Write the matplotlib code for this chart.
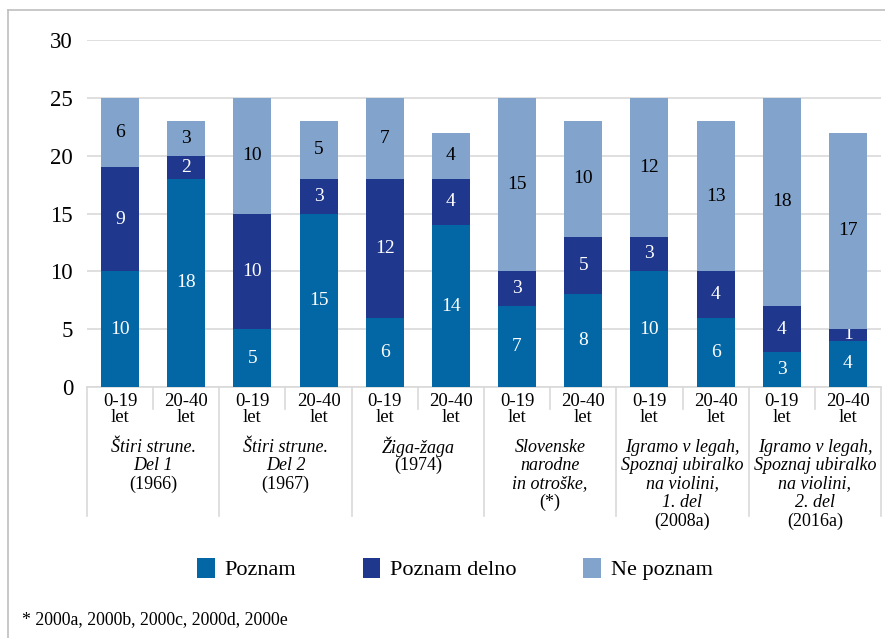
import matplotlib
matplotlib.use("Agg")
import matplotlib.pyplot as plt
import matplotlib.transforms as mtransforms
from matplotlib.lines import Line2D
import numpy as np

plt.rcParams['font.family'] = ['Liberation Serif', 'DejaVu Serif']

age_labels = ["0-19\nlet", "20-40\nlet"] * 6
group_labels = [
    "Štiri strune.\nDel 1",
    "Štiri strune.\nDel 2",
    "Žiga-žaga",
    "Slovenske\nnarodne\nin otroške,",
    "Igramo v legah,\nSpoznaj ubiralko\nna violini,\n1. del",
    "Igramo v legah,\nSpoznaj ubiralko\nna violini,\n2. del",
]
group_refs = ["(1966)", "(1967)", "(1974)", "(*)", "(2008a)", "(2016a)"]

poznam = [10, 18, 5, 15, 6, 14, 7, 8, 10, 6, 3, 4]
poznam_delno = [9, 2, 10, 3, 12, 4, 3, 5, 3, 4, 4, 1]
ne_poznam = [6, 3, 10, 5, 7, 4, 15, 10, 12, 13, 18, 17]

series_names = ["Poznam", "Poznam delno", "Ne poznam"]
colors = ["#0367a6", "#1f378d", "#82a3cb"]
label_colors = ["white", "white", "black"]

W, H = 885, 638
fig = plt.figure(figsize=(W / 100, H / 100), dpi=100)

# outer frame (top and left visible)
fig.add_artist(Line2D([8 / W, 8 / W], [0, 1 - 10 / H], transform=fig.transFigure, color="#bfbfbf", lw=1.2))
fig.add_artist(Line2D([8 / W, 1], [1 - 10 / H, 1 - 10 / H], transform=fig.transFigure, color="#bfbfbf", lw=1.2))

left, right = 87 / W, 881 / W
bottom, top = 1 - 387 / H, 1 - 40 / H
ax = fig.add_axes([left, bottom, right - left, top - bottom])

x = np.arange(len(poznam))
bw = 0.575
bottoms = np.zeros(len(poznam))
for vals, name, c, lc in zip([poznam, poznam_delno, ne_poznam], series_names, colors, label_colors):
    bars = ax.bar(x, vals, bw, bottom=bottoms, color=c, label=name, zorder=3)
    ax.bar_label(bars, labels=[str(v) for v in vals], label_type="center", color=lc, fontsize=14)
    bottoms += np.array(vals)

ax.set_xlim(-0.5, len(poznam) - 0.5)
ax.set_ylim(0, 30)
ax.set_yticks([0, 5, 10, 15, 20, 25, 30])
ax.tick_params(axis="y", length=0, labelsize=16.5, pad=10)
ax.grid(axis="y", color="#d9d9d9", lw=1.2, zorder=0)
for s in ["left", "right", "top"]:
    ax.spines[s].set_visible(False)
ax.spines["bottom"].set_color("#d9d9d9")
ax.spines["bottom"].set_linewidth(1.2)

ax.set_xticks(x)
ax.set_xticklabels([""] * len(x))
ax.tick_params(axis="x", length=0)

trans = mtransforms.blended_transform_factory(ax.transData, ax.transAxes)
axh = 347.0
base = 387.0


def ypos(py):
    return -(py - base) / axh


# age tick labels, line by line
for xi, lab in zip(x, age_labels):
    for i, line in enumerate(lab.split("\n")):
        ax.text(xi, ypos(401 + 16 * i), line, transform=trans, ha="center", va="center", fontsize=13.5)

# short separators within groups
for g in range(6):
    xs = 2 * g + 0.5
    ax.plot([xs, xs], [0, ypos(409)], transform=trans, color="#d9d9d9", lw=1.2, clip_on=False)
# long separators between groups
for g in range(7):
    xs = 2 * g - 0.5
    ax.plot([xs, xs], [0, ypos(516)], transform=trans, color="#d9d9d9", lw=1.2, clip_on=False)

for g in range(6):
    xc = 2 * g + 0.5
    lines = group_labels[g].split("\n")
    for i, line in enumerate(lines):
        ax.text(xc, ypos(447 + 18.5 * i), line, transform=trans, ha="center", va="center",
                fontsize=13, style="italic")
    ax.text(xc, ypos(447 + 18.5 * len(lines)), group_refs[g], transform=trans, ha="center",
            va="center", fontsize=13)

handles, labels = ax.get_legend_handles_labels()
fig.legend(handles, labels, loc="center", bbox_to_anchor=(455 / W, 1 - 569 / H), ncol=3,
           frameon=False, fontsize=16, handlelength=0.78, handleheight=1.05,
           handletextpad=0.45, columnspacing=3.0)

fig.text(22 / W, 1 - 620 / H, "* 2000a, 2000b, 2000c, 2000d, 2000e", fontsize=12.8, va="center", ha="left")

fig.savefig("out.png", dpi=100)
